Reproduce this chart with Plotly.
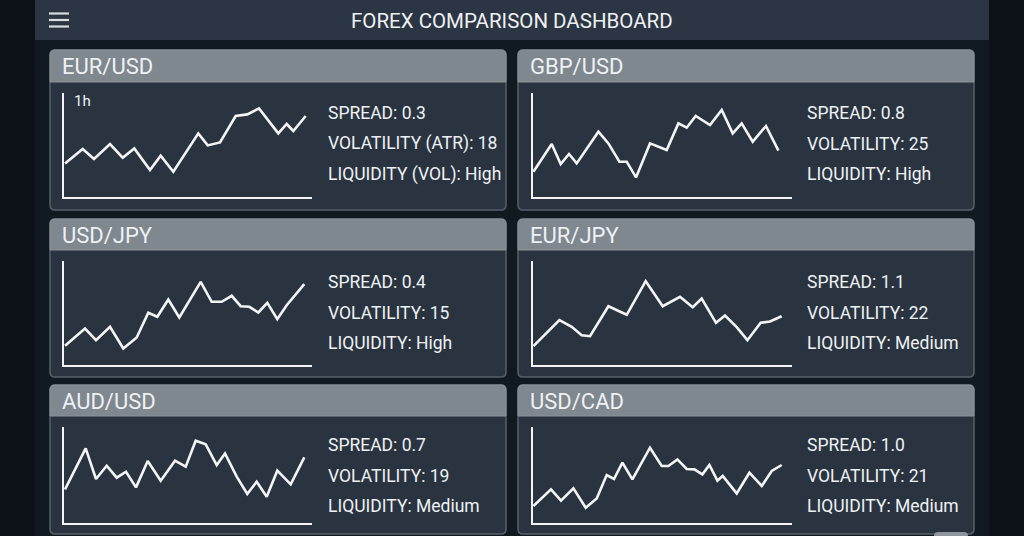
import plotly.graph_objects as go

W, H = 1024, 536

# ---------------- data ----------------
PAIRS = ["EUR/USD", "GBP/USD", "USD/JPY", "EUR/JPY", "AUD/USD", "USD/CAD"]
SPREAD = ["0.3", "0.8", "0.4", "1.1", "0.7", "1.0"]
VOLATILITY = ["18", "25", "15", "22", "19", "21"]
LIQUIDITY = ["High", "High", "High", "Medium", "Medium", "Medium"]
VOL_LABEL = ["VOLATILITY (ATR)", "VOLATILITY", "VOLATILITY", "VOLATILITY", "VOLATILITY", "VOLATILITY"]
LIQ_LABEL = ["LIQUIDITY (VOL)", "LIQUIDITY", "LIQUIDITY", "LIQUIDITY", "LIQUIDITY", "LIQUIDITY"]
TIMEFRAME = "1h"

EURUSD_T = [1, 18.7, 30, 46, 58.7, 70.3, 86, 96.7, 109.3, 134.3, 143.7, 156, 171.7, 183.3, 195, 214.3, 222.7, 229.3, 241.7]
EURUSD_V = [33.3, 47.7, 37.7, 52.7, 39, 48.3, 26.7, 41, 25, 63.3, 51.3, 54.3, 80.7, 82.3, 88.3, 63.3, 72.7, 65.7, 80.7]

GBPUSD_T = [0.7, 19, 28, 36.3, 44, 65.7, 75.7, 86.7, 94, 103.3, 117.3, 134, 145.7, 154, 163, 177.3, 189, 200, 209, 220, 233.3, 245.7]
GBPUSD_V = [25, 52.7, 32.7, 42.7, 33.3, 65, 53.3, 35, 35, 19.3, 53.3, 46.7, 73.3, 69, 80.7, 71.7, 86.7, 63.3, 73.3, 55, 70.7, 46]

USDJPY_T = [1, 21, 32, 46, 59.3, 72.7, 84.3, 93.3, 104.3, 115.3, 136.7, 147.7, 157.7, 167.7, 176.7, 185.3, 194.3, 203.3, 213.3, 222.7, 240.3]
USDJPY_V = [18.7, 36, 24.3, 37.7, 16, 27, 51.7, 47.7, 65, 47, 82.7, 62.7, 62.7, 68.7, 58.3, 57.7, 52, 61.7, 45.3, 59.3, 80.3]

EURJPY_T = [0.7, 26.7, 39, 49, 57.3, 75.7, 94, 113, 130, 147.3, 160, 169, 183.3, 192.3, 204, 214.7, 228, 237.3, 249]
EURJPY_V = [18.3, 44.3, 37.7, 29.3, 28.3, 58.3, 49.7, 83.3, 58.3, 67.7, 57.3, 66, 41.7, 49, 37.3, 24.3, 41.7, 43, 48.3]

AUDUSD_T = [1, 21.7, 32, 42.7, 52.7, 62, 72, 83.7, 96.7, 111, 121.7, 131.7, 141.7, 152.7, 161, 172.7, 183.3, 192.7, 202.7, 213.3, 226.7, 240.3]
AUDUSD_V = [33.3, 74.3, 43.7, 57, 45, 51, 35.3, 61.7, 42, 62, 56, 82, 78.3, 57.7, 69.3, 46, 28.7, 41, 26, 52, 38.3, 65.3]

USDCAD_T = [0.7, 18.3, 28.3, 40.7, 53, 64, 74, 81.3, 89.7, 99.7, 117.3, 129, 135.7, 144.7, 154, 161.7, 169.7, 176.7, 184.7, 190, 204, 216.7, 229, 239, 249]
USDCAD_V = [16.7, 33.3, 22, 34.3, 15, 24.3, 47.7, 43.7, 60, 43.3, 75, 56.7, 56.7, 63.3, 53.7, 53.3, 48.3, 57.7, 42, 46.7, 29.3, 50, 36.7, 51.7, 57.7]

SERIES_T = [EURUSD_T, GBPUSD_T, USDJPY_T, EURJPY_T, AUDUSD_T, USDCAD_T]
SERIES_V = [EURUSD_V, GBPUSD_V, USDJPY_V, EURJPY_V, AUDUSD_V, USDCAD_V]

# ---------------- layout constants (pixels) ----------------
OUTER_BG = "#0c1217"
PANEL_BG = "#121a21"
HEADER_BG = "#2b3543"
CARD_BG = "#2a3441"
CARD_BORDER = "#56606b"
TITLE_BG = "#7f878f"
TEXT = "#eef1f3"
LINE = "#f4f5f6"
FONT = "Roboto, sans-serif"

CARD_X = [(50, 506), (518, 974)]
CARD_Y = [(50, 210, 82), (219, 377, 250), (385, 534, 416)]
AX_X = [(64, 311.7), (532.7, 791.7)]
AX_Y = [(93.3, 196.7), (260.7, 364.5), (426.7, 522.7)]
STAT_X = [325.5, 804.5]
STAT_Y0 = [113, 282, 445]
STAT_DY = 30.5


def px(x):
    return x / W


def py(y):
    return 1 - y / H


def rrect(x0, y0, x1, y1, r, bottom_round=True):
    rx, ry = r, r
    p = f"M {px(x0 + rx)},{py(y0)} L {px(x1 - rx)},{py(y0)} Q {px(x1)},{py(y0)} {px(x1)},{py(y0 + ry)} "
    if bottom_round:
        p += f"L {px(x1)},{py(y1 - ry)} Q {px(x1)},{py(y1)} {px(x1 - rx)},{py(y1)} "
        p += f"L {px(x0 + rx)},{py(y1)} Q {px(x0)},{py(y1)} {px(x0)},{py(y1 - ry)} "
    else:
        p += f"L {px(x1)},{py(y1)} L {px(x0)},{py(y1)} "
    p += f"L {px(x0)},{py(y0 + ry)} Q {px(x0)},{py(y0)} {px(x0 + rx)},{py(y0)} Z"
    return p


fig = go.Figure()
shapes = []
annotations = []

# panel + header
shapes.append(dict(type="rect", xref="paper", yref="paper", x0=px(35), x1=px(989), y0=py(536), y1=py(0),
                   fillcolor=PANEL_BG, line=dict(width=0), layer="below"))
shapes.append(dict(type="rect", xref="paper", yref="paper", x0=px(35), x1=px(989), y0=py(40), y1=py(0),
                   fillcolor=HEADER_BG, line=dict(width=0), layer="below"))
for yy in (13.5, 20, 26.5):
    shapes.append(dict(type="line", xref="paper", yref="paper", x0=px(49), x1=px(69), y0=py(yy), y1=py(yy),
                       line=dict(color="#d9dde1", width=2.2), layer="above"))
annotations.append(dict(text="FOREX COMPARISON DASHBOARD", x=px(512), y=py(20.5), xref="paper", yref="paper",
                        showarrow=False, xanchor="center", yanchor="middle",
                        font=dict(family=FONT, size=20.5, color=TEXT)))

# small bottom-right indicator
shapes.append(dict(type="path", xref="paper", yref="paper", path=rrect(934, 532, 968, 541, 4),
                   fillcolor="#8e959c", line=dict(width=0), layer="above"))

for i, pair in enumerate(PAIRS):
    col, row = i % 2, i // 2
    cx0, cx1 = CARD_X[col]
    cy0, cy1, tb = CARD_Y[row]
    shapes.append(dict(type="path", xref="paper", yref="paper", path=rrect(cx0, cy0, cx1, cy1, 5),
                       fillcolor=CARD_BG, line=dict(color=CARD_BORDER, width=1.5), layer="below"))
    shapes.append(dict(type="path", xref="paper", yref="paper", path=rrect(cx0, cy0, cx1, tb, 5, bottom_round=False),
                       fillcolor=TITLE_BG, line=dict(color="#8c939a", width=1), layer="below"))
    annotations.append(dict(text=pair, x=px(cx0 + 10), y=py((cy0 + tb) / 2 + 0.5), xref="paper", yref="paper",
                            showarrow=False, xanchor="left", yanchor="middle",
                            font=dict(family=FONT, size=22, color=TEXT)))
    stats = [f"SPREAD: {SPREAD[i]}", f"{VOL_LABEL[i]}: {VOLATILITY[i]}", f"{LIQ_LABEL[i]}: {LIQUIDITY[i]}"]
    for k, s in enumerate(stats):
        annotations.append(dict(text=s, x=px(STAT_X[col]), y=py(STAT_Y0[row] + k * STAT_DY), xref="paper",
                                yref="paper", showarrow=False, xanchor="left", yanchor="middle",
                                font=dict(family=FONT, size=17.5, color=TEXT)))

    ax0, ax1 = AX_X[col]
    ay0, ay1 = AX_Y[row]
    n = "" if i == 0 else str(i + 1)
    axis_common = dict(showgrid=False, zeroline=False, showticklabels=False, ticks="", showline=True,
                       linecolor=LINE, linewidth=2, fixedrange=True)
    fig.layout["xaxis" + n] = dict(domain=[px(ax0), px(ax1)], range=[0, ax1 - ax0], anchor="y" + n, **axis_common)
    fig.layout["yaxis" + n] = dict(domain=[py(ay1), py(ay0)], range=[0, ay1 - ay0], anchor="x" + n, **axis_common)
    fig.add_trace(go.Scatter(x=SERIES_T[i], y=SERIES_V[i], mode="lines", xaxis="x" + n, yaxis="y" + n,
                             line=dict(color=LINE, width=2.6, shape="linear"), showlegend=False,
                             hoverinfo="skip"))

annotations.append(dict(text=TIMEFRAME, x=px(72), y=py(101), xref="paper", yref="paper", showarrow=False,
                        xanchor="left", yanchor="middle", font=dict(family=FONT, size=15, color=TEXT)))

fig.update_layout(width=W, height=H, margin=dict(l=0, r=0, t=0, b=0), paper_bgcolor=OUTER_BG,
                  plot_bgcolor="rgba(0,0,0,0)", shapes=shapes, annotations=annotations, showlegend=False)

fig.write_html("out.html", config={"displayModeBar": False})
